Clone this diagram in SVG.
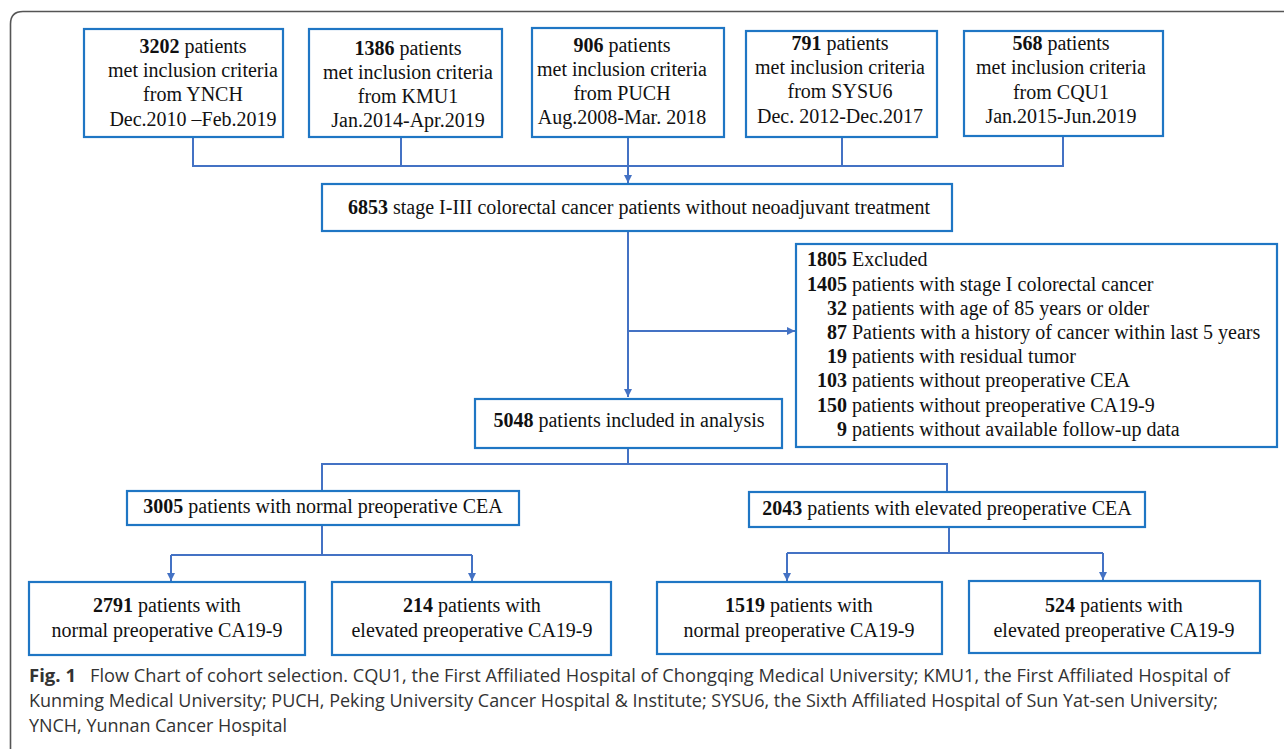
<svg xmlns="http://www.w3.org/2000/svg" width="1284" height="749" viewBox="0 0 1284 749">
<style>
.box{fill:#fff;stroke:#1f76c4;stroke-width:2.2}
.t{font-family:"Liberation Serif","Times New Roman",serif;font-size:20px;fill:#111}
.c{text-anchor:middle}
.e{text-anchor:end}
.b{font-weight:bold}
.ln{fill:none;stroke:#4472c4;stroke-width:2}
.cap{font-family:"Open Sans","Noto Sans",sans-serif;font-size:18px;fill:#333}
</style>
<defs>
<marker id="ah" markerUnits="userSpaceOnUse" markerWidth="9" markerHeight="9" refX="8" refY="4.5" orient="auto">
<path d="M0,0.5 L8,4.5 L0,8.5 z" fill="#4472c4"/>
</marker>
</defs>
<rect width="1284" height="749" fill="#fff"/>
<path d="M10.5 749 V24 Q10.5 11.5 23 11.5 H1284" fill="none" stroke="#555" stroke-width="1.6"/>

<g id="connectors">
<path class="ln" d="M193 137 V166 H1063 V136"/>
<path class="ln" d="M401 137 V166"/>
<path class="ln" d="M842 137 V166"/>
<path class="ln" d="M628 137 V183" marker-end="url(#ah)"/>
<path class="ln" d="M628 231 V397" marker-end="url(#ah)"/>
<path class="ln" d="M628 331 H795" marker-end="url(#ah)"/>
<path class="ln" d="M628 448 V464"/>
<path class="ln" d="M322 491 V464 H947 V492"/>
<path class="ln" d="M322 525 V555"/>
<path class="ln" d="M171 555 H472"/>
<path class="ln" d="M171 555 V581" marker-end="url(#ah)"/>
<path class="ln" d="M472 555 V581" marker-end="url(#ah)"/>
<path class="ln" d="M949 527 V553"/>
<path class="ln" d="M787 553 H1103"/>
<path class="ln" d="M787 553 V581" marker-end="url(#ah)"/>
<path class="ln" d="M1103 553 V580" marker-end="url(#ah)"/>
</g>

<g id="ynch">
<rect class="box" x="84" y="29" width="199" height="108"/>
<text class="t c" x="193" y="53"><tspan class="b">3202</tspan> patients</text>
<text class="t c" x="193" y="77">met inclusion criteria</text>
<text class="t c" x="193" y="101">from YNCH</text>
<text class="t c" x="193" y="126">Dec.2010 –Feb.2019</text>
</g>
<g id="kmu1">
<rect class="box" x="309" y="29" width="193" height="108"/>
<text class="t c" x="408" y="55"><tspan class="b">1386</tspan> patients</text>
<text class="t c" x="408" y="79">met inclusion criteria</text>
<text class="t c" x="408" y="103">from KMU1</text>
<text class="t c" x="408" y="127">Jan.2014-Apr.2019</text>
</g>
<g id="puch">
<rect class="box" x="532" y="28" width="192" height="109"/>
<text class="t c" x="622" y="52"><tspan class="b">906</tspan> patients</text>
<text class="t c" x="622" y="76">met inclusion criteria</text>
<text class="t c" x="622" y="100">from PUCH</text>
<text class="t c" x="622" y="124">Aug.2008-Mar. 2018</text>
</g>
<g id="sysu6">
<rect class="box" x="746" y="31" width="191" height="106"/>
<text class="t c" x="840" y="50"><tspan class="b">791</tspan> patients</text>
<text class="t c" x="840" y="74">met inclusion criteria</text>
<text class="t c" x="840" y="98">from SYSU6</text>
<text class="t c" x="840" y="123">Dec. 2012-Dec.2017</text>
</g>
<g id="cqu1">
<rect class="box" x="964" y="31" width="199" height="105"/>
<text class="t c" x="1061" y="50"><tspan class="b">568</tspan> patients</text>
<text class="t c" x="1061" y="74">met inclusion criteria</text>
<text class="t c" x="1061" y="99">from CQU1</text>
<text class="t c" x="1061" y="123">Jan.2015-Jun.2019</text>
</g>

<g id="all">
<rect class="box" x="322" y="184" width="630" height="47"/>
<text class="t c" x="639" y="214"><tspan class="b">6853</tspan> stage I-III colorectal cancer patients without neoadjuvant treatment</text>
</g>

<g id="excluded">
<rect class="box" x="796" y="244" width="481" height="203"/>
<text class="t e b" x="847" y="266">1805</text><text class="t" x="852" y="266">Excluded</text>
<text class="t e b" x="847" y="291">1405</text><text class="t" x="852" y="291">patients with stage I colorectal cancer</text>
<text class="t e b" x="847" y="315">32</text><text class="t" x="852" y="315">patients with age of 85 years or older</text>
<text class="t e b" x="847" y="339">87</text><text class="t" x="852" y="339">Patients with a history of cancer within last 5 years</text>
<text class="t e b" x="847" y="363">19</text><text class="t" x="852" y="363">patients with residual tumor</text>
<text class="t e b" x="847" y="387">103</text><text class="t" x="852" y="387">patients without preoperative CEA</text>
<text class="t e b" x="847" y="412">150</text><text class="t" x="852" y="412">patients without preoperative CA19-9</text>
<text class="t e b" x="847" y="436">9</text><text class="t" x="852" y="436">patients without available follow-up data</text>
</g>

<g id="included">
<rect class="box" x="475" y="399" width="307" height="49"/>
<text class="t c" x="629" y="427"><tspan class="b">5048</tspan> patients included in analysis</text>
</g>

<g id="normalCEA">
<rect class="box" x="127" y="491" width="392" height="34"/>
<text class="t c" x="323" y="513"><tspan class="b">3005</tspan> patients with normal preoperative CEA</text>
</g>
<g id="elevatedCEA">
<rect class="box" x="749" y="492" width="396" height="35"/>
<text class="t c" x="947" y="515"><tspan class="b">2043</tspan> patients with elevated preoperative CEA</text>
</g>

<g id="n2791">
<rect class="box" x="29" y="582" width="276" height="73"/>
<text class="t c" x="167" y="612"><tspan class="b">2791</tspan> patients with</text>
<text class="t c" x="167" y="637">normal preoperative CA19-9</text>
</g>
<g id="n214">
<rect class="box" x="332" y="582" width="279" height="73"/>
<text class="t c" x="472" y="612"><tspan class="b">214</tspan> patients with</text>
<text class="t c" x="472" y="637">elevated preoperative CA19-9</text>
</g>
<g id="n1519">
<rect class="box" x="657" y="582" width="285" height="72"/>
<text class="t c" x="799" y="612"><tspan class="b">1519</tspan> patients with</text>
<text class="t c" x="799" y="637">normal preoperative CA19-9</text>
</g>
<g id="n524">
<rect class="box" x="969" y="581" width="291" height="72"/>
<text class="t c" x="1114" y="612"><tspan class="b">524</tspan> patients with</text>
<text class="t c" x="1114" y="637">elevated preoperative CA19-9</text>
</g>

<g id="caption">
<text class="cap" x="29" y="682" font-weight="bold" fill="#222" textLength="47" lengthAdjust="spacingAndGlyphs">Fig. 1</text>
<text class="cap" x="90" y="682" textLength="1140" lengthAdjust="spacingAndGlyphs">Flow Chart of cohort selection. CQU1, the First Affiliated Hospital of Chongqing Medical University; KMU1, the First Affiliated Hospital of</text>
<text class="cap" x="29" y="707" textLength="1189" lengthAdjust="spacingAndGlyphs">Kunming Medical University; PUCH, Peking University Cancer Hospital &amp; Institute; SYSU6, the Sixth Affiliated Hospital of Sun Yat-sen University;</text>
<text class="cap" x="29" y="732" textLength="258" lengthAdjust="spacingAndGlyphs">YNCH, Yunnan Cancer Hospital</text>
</g>
</svg>
